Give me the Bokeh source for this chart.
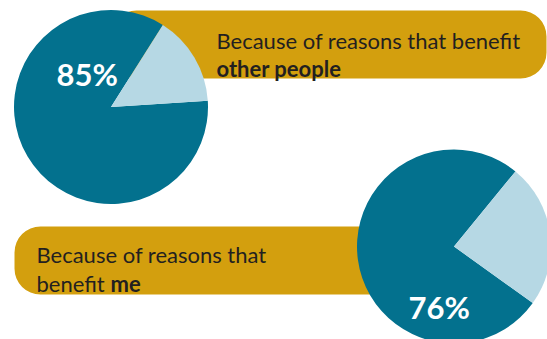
import math
from bokeh.plotting import figure
from bokeh.models import Range1d, ColumnDataSource
from bokeh.core.properties import value
from bokeh.embed import file_html
from bokeh.resources import INLINE

# ---- data ----
line1 = ["Because of reasons that benefit", "Because of reasons that"]
line2_plain = ["", "benefit"]
line2_bold = ["other people", "me"]
shares = [85, 76]           # percent, dark slice
others = [15, 24]           # percent, light slice
pct_labels = ["85%", "76%"]

# ---- styles / layout (screen px, y measured from top) ----
W, H = 547, 339
TEAL = "#03718E"
LIGHT = "#B6D8E4"
GOLD = "#D39F0E"
INK = "#231F20"
FONT = "Lato"
FS = "22px"

centers = [(110.5, 106.5), (453.5, 246.0)]
radius = 97
start_deg = [57.7, 50.7]

banners = [dict(left=110, right=546, top=10, bottom=78),
           dict(left=14, right=453, top=226, bottom=294)]
text_x = [216, 36]
base1 = [40, 254]
base2 = [67.5, 282.5]
bold_x = [216, 110]
pct_pos = [(56, 73), (408, 306)]


def Y(sy):
    return H - sy


p = figure(width=W, height=H, output_backend="svg", toolbar_location=None,
           x_range=Range1d(0, W), y_range=Range1d(0, H), min_border=0,
           background_fill_color="white", border_fill_color="white")
p.axis.visible = False
p.grid.visible = False
p.outline_line_color = None

# banners
p.quad(left=[b["left"] for b in banners], right=[b["right"] for b in banners],
       top=[Y(b["top"]) for b in banners], bottom=[Y(b["bottom"]) for b in banners],
       fill_color=GOLD, line_color=None, border_radius=26)

# pies
xs, ys, sa, ea, cols = [], [], [], [], []
for i in range(2):
    cx, cy = centers[i]
    s = math.radians(start_deg[i])
    total = shares[i] + others[i]
    e1 = s + 2 * math.pi * shares[i] / total
    e2 = e1 + 2 * math.pi * others[i] / total
    xs += [cx, cx]; ys += [Y(cy), Y(cy)]
    sa += [s, e1]; ea += [e1, e2]
    cols += [TEAL, LIGHT]
src = ColumnDataSource(dict(x=xs, y=ys, start=sa, end=ea, color=cols))
p.wedge(x="x", y="y", radius=radius, start_angle="start", end_angle="end",
        fill_color="color", line_color=None, source=src)

# banner texts
p.text(x=text_x, y=[Y(v) for v in base1], text=line1, text_font=value(FONT),
       text_font_size=value(FS), text_color=INK, text_baseline="alphabetic",
       text_align="left")
p.text(x=text_x, y=[Y(v) for v in base2], text=line2_plain, text_font=value(FONT),
       text_font_size=value(FS), text_color=INK, text_baseline="alphabetic",
       text_align="left")
p.text(x=bold_x, y=[Y(v) for v in base2], text=line2_bold, text_font=value(FONT),
       text_font_size=value(FS), text_font_style="bold", text_color=INK,
       text_baseline="alphabetic", text_align="left")

# percentages
p.text(x=[q[0] for q in pct_pos], y=[Y(q[1]) for q in pct_pos], text=pct_labels,
       text_font=value(FONT), text_font_size=value("31px"), text_font_style="bold",
       text_color="white", text_baseline="alphabetic", text_align="left")

open("out.html", "w").write(file_html(p, INLINE))
